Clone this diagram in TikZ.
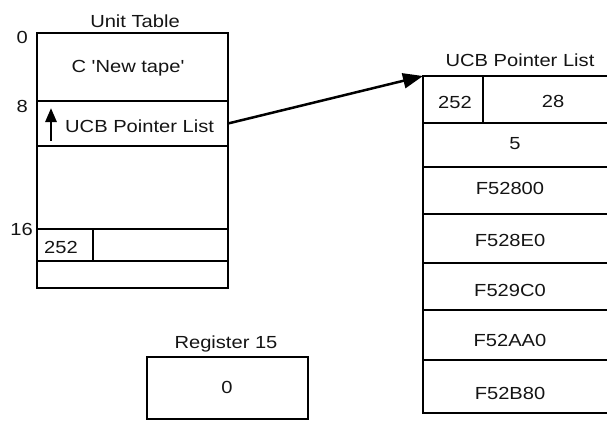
\documentclass[tikz,border=0pt]{standalone}
\usepackage{fontspec}
\newfontfamily\diagfont{Liberation Sans}[FakeStretch=1.15]
\usetikzlibrary{arrows.meta}
\begin{document}
\begin{tikzpicture}[x=1pt,y=-1pt,
  cell/.style={draw, line width=2.4pt, rectangle, inner sep=0pt, outer sep=0pt, anchor=north west},
  txt/.style={font=\diagfont\fontsize{17.5}{20}\selectfont, text=black!92, inner sep=0pt, anchor=base},
  conn/.style={line width=2.5pt, -{Triangle[length=20pt,width=15pt]}},
  uparrow/.style={line width=2.8pt, -{Triangle[length=14pt,width=11pt]}}]
\useasboundingbox (0,0) rectangle (607,421);

% ---- Unit Table ----
\node[txt] (tUT) at (135,27) {Unit Table};
\node[cell, minimum width=191pt, minimum height=68pt] (ut0) at (37,33) {};
\node[cell, minimum width=191pt, minimum height=45pt] (ut8) at (37,101) {};
\node[cell, minimum width=191pt, minimum height=83pt] (ut12) at (37,146) {};
\node[cell, minimum width=56pt, minimum height=32pt] (ut16a) at (37,229) {};
\node[cell, minimum width=135pt, minimum height=32pt] (ut16b) at (93,229) {};
\node[cell, minimum width=191pt, minimum height=27pt] (ut20) at (37,261) {};

\node[txt, anchor=base east] (o0) at (28,43) {0};
\node[txt, anchor=base east] (o8) at (28,112) {8};
\node[txt, anchor=base east] (o16) at (33,235) {16};

\node[txt] (tNew) at (128,72) {C 'New tape'};
\node[txt, anchor=base west] (tPtr) at (65,132) {UCB Pointer List};
\coordinate (upA) at (51,141);
\coordinate (upB) at (51,108);
\draw[uparrow] (upA) -- (upB);
\node[txt] (t252a) at (61,253) {252};

% ---- UCB Pointer List ----
\node[txt] (tUCB) at (520,66) {UCB Pointer List};
\node[cell, minimum width=60pt, minimum height=47pt] (u1a) at (423,76) {};
\node[cell, minimum width=130pt, minimum height=47pt] (u1b) at (483,76) {};
\node[cell, minimum width=190pt, minimum height=44pt] (u2) at (423,123) {};
\node[cell, minimum width=190pt, minimum height=47pt] (u3) at (423,167) {};
\node[cell, minimum width=190pt, minimum height=49pt] (u4) at (423,214) {};
\node[cell, minimum width=190pt, minimum height=47pt] (u5) at (423,263) {};
\node[cell, minimum width=190pt, minimum height=50pt] (u6) at (423,310) {};
\node[cell, minimum width=190pt, minimum height=53pt] (u7) at (423,360) {};

\node[txt] (t252b) at (455,108) {252};
\node[txt] (t28) at (553,107) {28};
\node[txt] (t5) at (515,149) {5};
\node[txt] (tA) at (510,194) {F52800};
\node[txt] (tB) at (510,246) {F528E0};
\node[txt] (tC) at (510,296) {F529C0};
\node[txt] (tD) at (510,346) {F52AA0};
\node[txt] (tE) at (510,399) {F52B80};

\draw[conn] (ut8.east) -- (u1a.north west);

% ---- Register 15 ----
\node[txt] (tReg) at (226,348) {Register 15};
\node[cell, minimum width=161pt, minimum height=62pt] (reg) at (147,357) {};
\node[txt] (t0) at (227,393) {0};
\end{tikzpicture}
\end{document}
